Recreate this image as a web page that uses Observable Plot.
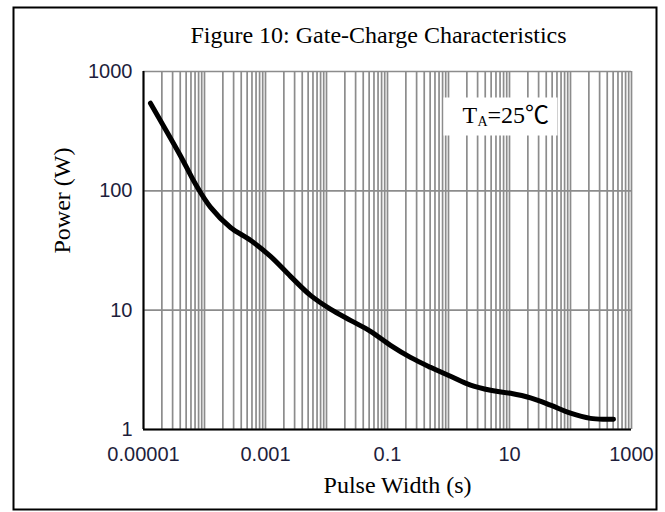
<!DOCTYPE html>
<html>
<head>
<meta charset="utf-8">
<script src="https://cdn.jsdelivr.net/npm/d3@7"></script>
<script src="https://cdn.jsdelivr.net/npm/@observablehq/plot@0.6"></script>
<style>
  html, body { margin: 0; padding: 0; background: white; }
</style>
</head>
<body>
<div id="chart"></div>
<script>
// ---- data ----
const pulseWidth = [1.30e-5, 2.13e-5, 4.05e-5, 7.11e-5, 1.25e-4, 2.67e-4, 5.68e-4, 1.21e-3, 2.57e-3, 5.47e-3,
                    0.0116, 0.0247, 0.0526, 0.112, 0.238, 0.507, 1.08, 2.30, 4.89, 10.4,
                    22.1, 47.0, 100, 213, 375, 507];
const power = [543, 350, 196, 114, 73, 49.3, 38.5, 28.2, 19.2, 13.3,
               10.2, 8.22, 6.65, 5.07, 4.02, 3.32, 2.79, 2.35, 2.13, 2.01,
               1.84, 1.60, 1.37, 1.24, 1.22, 1.22];

const xTicks = [1e-5, 1e-3, 1e-1, 10, 1000];
const xTickLabels = ["0.00001", "0.001", "0.1", "10", "1000"];
const yTicks = [1, 10, 100, 1000];
const yTickLabels = ["1", "10", "100", "1000"];

const titleText = "Figure 10: Gate-Charge Characteristics";
const xLabelText = "Pulse Width (s)";
const yLabelText = "Power (W)";
const legendT = "T";
const legendSub = "A";
const legendRest = "=25\u2103";

const curve = pulseWidth.map((x, i) => ({x, y: power[i]}));
const xDomain = [xTicks[0], xTicks[xTicks.length - 1]];
const yDomain = [yTicks[0], yTicks[yTicks.length - 1]];
const xGrid = d3.scaleLog().domain(xDomain).ticks(100);
const xFmt = new Map(xTicks.map((t, i) => [t, xTickLabels[i]]));
const yFmt = new Map(yTicks.map((t, i) => [t, yTickLabels[i]]));

const serif = "'Liberation Serif', 'Times New Roman', 'Noto Sans CJK SC', serif";
const gridColor = "#8c8c8c";
const tickColor = "#1e1e3c";

const chart = Plot.plot({
  width: 665,
  height: 512,
  marginLeft: 143,
  marginRight: 34,
  marginTop: 71,
  marginBottom: 83,
  style: {background: "white", fontFamily: "'Liberation Sans', Arial, sans-serif", fontSize: "20px", color: "black"},
  x: {type: "log", domain: xDomain},
  y: {type: "log", domain: yDomain},
  marks: [
    Plot.ruleX(xGrid, {stroke: gridColor, strokeWidth: 1.7, strokeOpacity: 1}),
    Plot.ruleY(yTicks, {stroke: gridColor, strokeWidth: 1.7, strokeOpacity: 1}),
    // white box behind the temperature note
    Plot.frame({fill: "white", stroke: null, insetLeft: 300, insetRight: 74, insetTop: 26, insetBottom: 294}),
    // axis lines
    Plot.ruleX([xDomain[0]], {stroke: "black", strokeWidth: 2}),
    Plot.ruleY([yDomain[0]], {stroke: "black", strokeWidth: 2}),
    // curve
    Plot.line(curve, {x: "x", y: "y", stroke: "black", strokeWidth: 5, curve: "catmull-rom", strokeLinecap: "round"}),
    // axes
    Plot.axisX(xTicks, {tickSize: 0, tickPadding: 17, tickFormat: d => xFmt.get(d), label: null, fill: tickColor}),
    Plot.axisY(yTicks, {tickSize: 0, tickPadding: 11, tickFormat: d => yFmt.get(d), label: null, fill: tickColor}),
    // title
    Plot.text([titleText], {frameAnchor: "top", lineAnchor: "bottom", dx: -9, dy: -29, fontSize: 24, fontFamily: serif, fill: "black"}),
    // axis labels
    Plot.text([xLabelText], {frameAnchor: "bottom", lineAnchor: "bottom", dx: 10, dy: 63, fontSize: 24, fontFamily: serif, fill: "black"}),
    Plot.text([yLabelText], {frameAnchor: "left", rotate: -90, lineAnchor: "middle", dx: -81, dy: 3, fontSize: 24, fontFamily: serif, fill: "black"}),
    // temperature note
    Plot.text([legendT], {frameAnchor: "top-left", textAnchor: "start", lineAnchor: "bottom", dx: 319, dy: 51, fontSize: 24, fontFamily: serif, fill: "black"}),
    Plot.text([legendSub], {frameAnchor: "top-left", textAnchor: "start", lineAnchor: "bottom", dx: 334, dy: 54, fontSize: 14, fontFamily: serif, fill: "black"}),
    Plot.text([legendRest], {frameAnchor: "top-left", textAnchor: "start", lineAnchor: "bottom", dx: 344, dy: 51, fontSize: 24, fontFamily: serif, fill: "black"}),
    // outer figure border
    Plot.frame({stroke: "black", strokeWidth: 2, fill: null, insetLeft: -130, insetTop: -64, insetRight: -25, insetBottom: -80})
  ]
});
document.getElementById("chart").appendChild(chart);
</script>
</body>
</html>
